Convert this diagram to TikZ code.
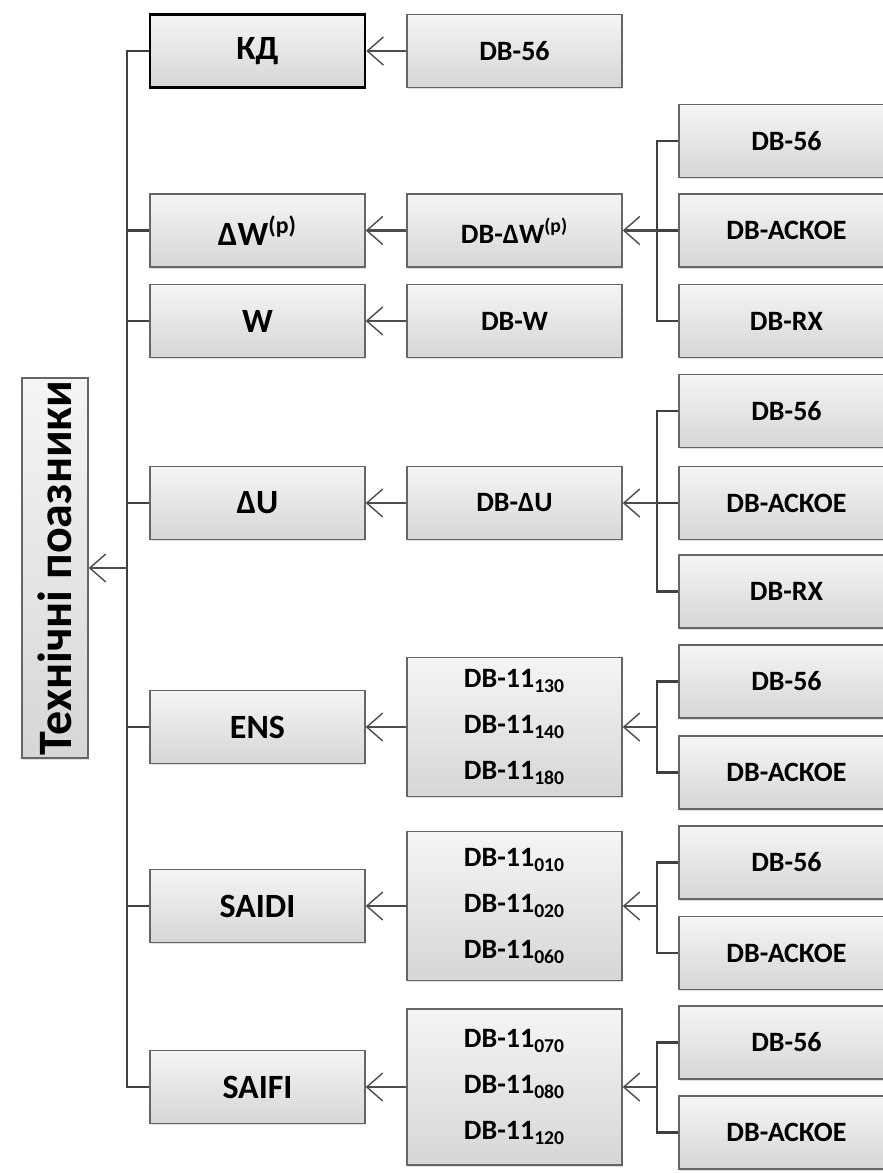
\documentclass[tikz,border=0pt]{standalone}
\usepackage{fontspec}
\setmainfont{Carlito}
\usetikzlibrary{arrows.meta,shadows}
\begin{document}
\begin{tikzpicture}[
	x=0.5pt, y=-0.5pt,
	every node/.style={rectangle, draw=black!60, line width=0.7pt, top color=black!4, bottom color=black!16, font=\bfseries\fontsize{14}{23}\selectfont, align=center, minimum width=107.5pt, minimum height=36.5pt, inner sep=0pt, drop shadow={shadow xshift=0.4pt, shadow yshift=-0.8pt, opacity=0.25}},
	every path/.style={line width=1.3pt},
	wire/.style={draw=black!75},
	link/.style={draw=black!70, -{Straight Barb[length=8pt, width=14pt, line width=0.7pt]}},
	root/.style={minimum width=33pt, minimum height=190pt, font=\bfseries\fontsize{24}{28}\selectfont},
	head/.style={font=\bfseries\fontsize{17}{20}\selectfont},
	kdbox/.style={draw=black, line width=1.3pt},
]
\useasboundingbox (0,0) rectangle (883,1173);
\node [root] (root) at (55,568) {\rotatebox{90}{Технічні поазники}};
\coordinate (trunk) at (127,568);
\node [head, kdbox] (kd) at (257.5,51) {КД};
\node [head] (dwp) at (257.5,230.5) {ΔW\textsuperscript{(p)}};
\node [head] (w) at (257.5,321) {W};
\node [head] (du) at (257.5,503) {ΔU};
\node [head] (ens) at (257.5,727) {ENS};
\node [head] (saidi) at (257.5,906) {SAIDI};
\node [head] (saifi) at (257.5,1087) {SAIFI};
\node (dbkd) at (514.5,51) {DB-56};
\node (dbdwp) at (514.5,230.5) {DB-ΔW\textsuperscript{(p)}};
\node (dbw) at (514.5,321) {DB-W};
\node (dbdu) at (514.5,503) {DB-ΔU};
\node [minimum height=69.5pt] (dbens) at (514.5,727) {DB-11\textsubscript{130}\\DB-11\textsubscript{140}\\DB-11\textsubscript{180}};
\node [minimum height=74.5pt] (dbsaidi) at (514.5,906) {DB-11\textsubscript{010}\\DB-11\textsubscript{020}\\DB-11\textsubscript{060}};
\node [minimum height=78pt] (dbsaifi) at (514.5,1087) {DB-11\textsubscript{070}\\DB-11\textsubscript{080}\\DB-11\textsubscript{120}};
\foreach \g/\a/\b/\c in {dwp/141/230.5/321, du/411/503/591.5} {
	\node (\g-56) at (786.5,\a) {DB-56};
	\node (\g-ask) at (786.5,\b) {DB-АСКОЕ};
	\node (\g-rx) at (786.5,\c) {DB-RX};
	\coordinate (j\g) at (657,\b);
	\draw [wire] (\g-56.west) -| (j\g) |- (\g-rx.west);
	\draw [wire] (\g-ask.west) -- (j\g);
	\draw [link] (j\g) -- (db\g);
}
\foreach \g/\a/\b/\c in {ens/681.5/772.5/727, saidi/862.5/953/906, saifi/1042.5/1132.5/1087} {
	\node (\g-56) at (786.5,\a) {DB-56};
	\node (\g-ask) at (786.5,\b) {DB-АСКОЕ};
	\coordinate (j\g) at (657,\c);
	\draw [wire] (\g-56.west) -| (j\g) |- (\g-ask.west);
	\draw [link] (j\g) -- (db\g);
}
\foreach \n in {kd,dwp,w,du,ens,saidi,saifi}
	\draw [link] (db\n) -- (\n);
\draw [wire] (kd.west) -| (trunk) |- (saifi.west);
\foreach \n in {dwp,w,du,ens,saidi}
	\draw [wire] (\n.west) -- (\n.west -| trunk);
\draw [link] (trunk) -- (root);
\end{tikzpicture}
\end{document}
